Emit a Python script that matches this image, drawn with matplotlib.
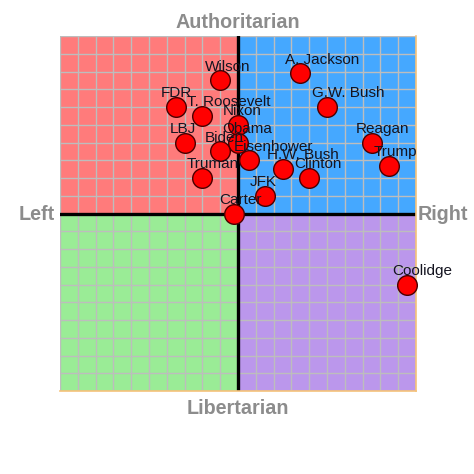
import matplotlib
matplotlib.use("Agg")
import matplotlib.pyplot as plt
from matplotlib.patches import Rectangle

plt.rcParams['font.family'] = ['Liberation Sans', 'DejaVu Sans']

# economic (x) and social (y) positions, range -10..10
presidents = ["Wilson", "A. Jackson", "FDR", "T. Roosevelt", "G.W. Bush", "Nixon",
              "Obama", "LBJ", "Biden", "Eisenhower", "H.W. Bush", "Clinton",
              "Reagan", "Trump", "Truman", "JFK", "Carter", "Coolidge"]
econ = [-1.0, 3.5, -3.5, -2.0, 5.0, 0.0,
        0.0, -3.0, -1.0, 0.6, 2.5, 4.0,
        7.5, 8.5, -2.0, 1.5, -0.2, 9.5]
social = [7.5, 7.9, 6.0, 5.5, 6.0, 5.0,
          4.0, 4.0, 3.5, 3.0, 2.5, 2.0,
          4.0, 2.7, 2.0, 1.0, 0.0, -4.0]

fig = plt.figure(figsize=(4.74, 4.74), dpi=100)
ax = fig.add_axes([60 / 474, 83 / 474, 356 / 474, 355 / 474])
ax.set_xlim(-10, 10)
ax.set_ylim(-10, 10)

# quadrant backgrounds
ax.add_patch(Rectangle((-10, 0), 10, 10, color="#ff7b7b", zorder=0))
ax.add_patch(Rectangle((0, 0), 10, 10, color="#45a8ff", zorder=0))
ax.add_patch(Rectangle((-10, -10), 10, 10, color="#9aec96", zorder=0))
ax.add_patch(Rectangle((0, -10), 10, 10, color="#bb97ec", zorder=0))

for v in range(-10, 11):
    ax.axvline(v, color="#bdbdbd", lw=1, zorder=1)
    ax.axhline(v, color="#bdbdbd", lw=1, zorder=1)
ax.axvline(0, color="black", lw=2.4, zorder=2)
ax.axhline(0, color="black", lw=2.4, zorder=2)

ax.set_xticks([])
ax.set_yticks([])
for side in ["top", "left"]:
    ax.spines[side].set_visible(False)
for side in ["right", "bottom"]:
    ax.spines[side].set_color("#f5c27a")
    ax.spines[side].set_linewidth(1.2)

ax.scatter(econ, social, s=200, color="red", edgecolor="#4a0000", linewidth=1,
           zorder=4, clip_on=False)
for name, x, y in zip(presidents, econ, social):
    ax.annotate(name, (x, y), xytext=(-11, 7), textcoords="offset points",
                ha="left", va="baseline", fontsize=11, color="#141420",
                zorder=5, annotation_clip=False)

lab = dict(color="#8c8c8c", fontsize=14.2, fontweight="bold")
fig.text(238 / 474, 1 - 22 / 474, "Authoritarian", ha="center", va="center", **lab)
fig.text(238 / 474, 1 - 408 / 474, "Libertarian", ha="center", va="center", **lab)
fig.text(37 / 474, 1 - 214 / 474, "Left", ha="center", va="center", **lab)
fig.text(443 / 474, 1 - 214 / 474, "Right", ha="center", va="center", **lab)

fig.savefig("out.png", dpi=100)
